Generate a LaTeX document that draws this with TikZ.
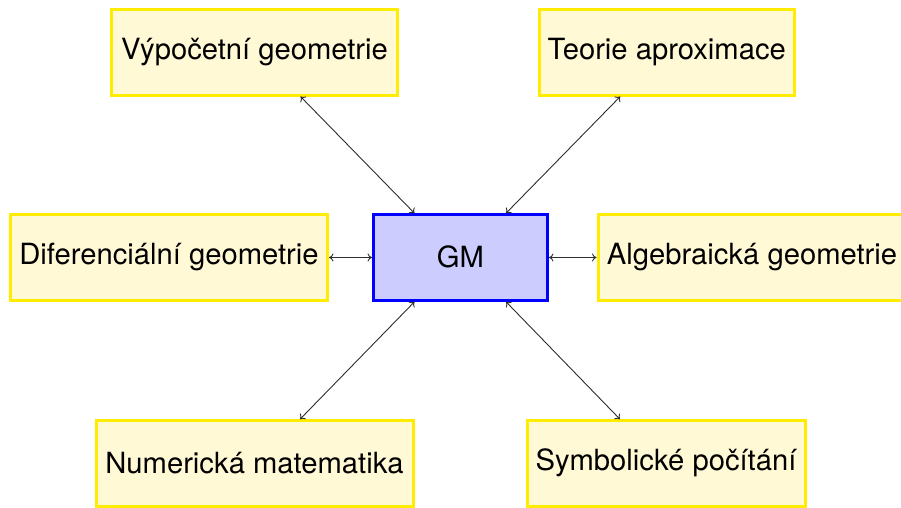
\documentclass[tikz,border=0pt]{standalone}
\usepackage{fontspec}
\setmainfont{TeX Gyre Heros}
\usetikzlibrary{arrows.meta}
\definecolor{boxyellow}{RGB}{255,236,0}
\definecolor{boxfill}{RGB}{255,249,214}
\definecolor{gmblue}{RGB}{0,0,255}
\definecolor{gmfill}{RGB}{204,204,255}
\definecolor{connc}{RGB}{45,45,45}
\tikzset{
  topic/.style={draw=boxyellow, fill=boxfill, line width=3pt, inner sep=0pt,
    minimum height=85.5pt, text height=21pt, font=\fontsize{29.2}{34}\selectfont},
  core/.style={draw=gmblue, fill=gmfill, line width=3pt, inner sep=0pt,
    minimum height=85.5pt, minimum width=174pt, text height=21pt, font=\fontsize{29.2}{34}\selectfont},
  conn/.style={{To[length=4.5pt,width=8pt]}-{To[length=4.5pt,width=8pt]}, line width=0.9pt, draw=connc}
}
\begin{document}
\begin{tikzpicture}[x=1pt,y=-1pt]
\useasboundingbox (0,0) rectangle (901,507);
\node[topic, minimum width=286pt] (v) at (254.5,52.25) {Výpočetní geometrie};
\node[topic, minimum width=255.5pt] (t) at (666.75,52.25) {Teorie aproximace};
\node[topic, minimum width=317pt] (d) at (169,257.5) {Diferenciální geometrie};
\node[core] (g) at (460.5,257.5) {GM};
\node[topic, minimum width=308pt] (a) at (752,257.5) {Algebraická geometrie};
\node[topic, minimum width=317pt] (n) at (254.5,463.5) {Numerická matematika};
\node[topic, minimum width=278pt] (s) at (666,463.5) {Symbolické počítání};
\draw[conn] ([xshift=46pt]v.south) -- ([xshift=-46pt]g.north);
\draw[conn] ([xshift=-46.5pt]t.south) -- ([xshift=45.5pt]g.north);
\draw[conn] (d.east) -- (g.west);
\draw[conn] (g.east) -- (a.west);
\draw[conn] ([xshift=-46pt]g.south) -- ([xshift=45.5pt]n.north);
\draw[conn] ([xshift=45.5pt]g.south) -- ([xshift=-46pt]s.north);
\end{tikzpicture}
\end{document}
